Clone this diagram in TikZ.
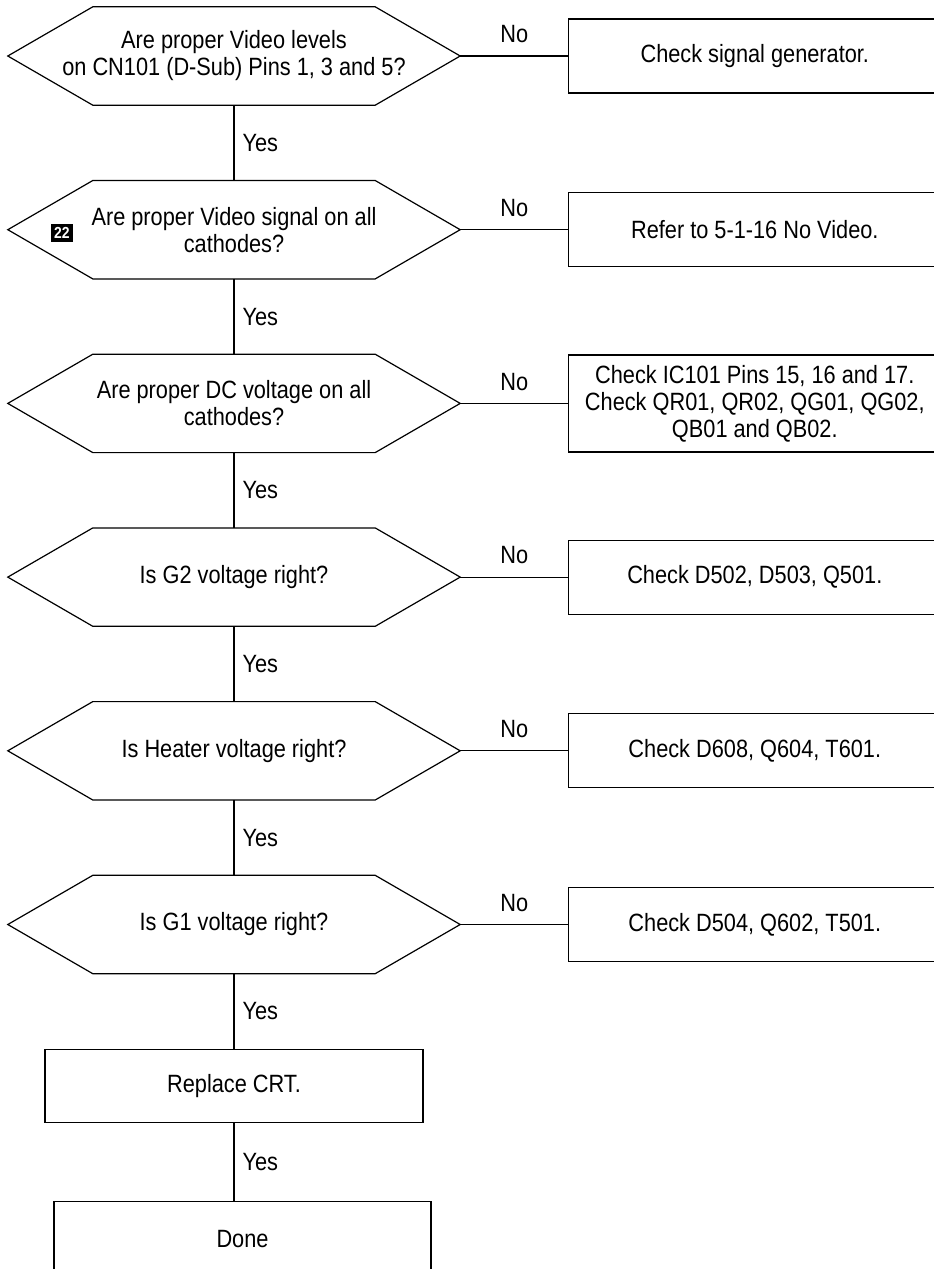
\documentclass[tikz,border=0pt]{standalone}
\usepackage{fontspec}
\setmainfont[FakeStretch=0.87]{Liberation Sans}
\usetikzlibrary{positioning}

\begin{document}
\begin{tikzpicture}[
  x=1pt,y=-1pt,
  node distance=75.3pt and 108pt,
  every node/.style={font=\fontsize{25}{27}\selectfont},
  hexnode/.style={minimum width=452pt,minimum height=98pt,inner sep=0pt,align=center},
  checkbox/.style={draw,line width=1.2pt,minimum width=372pt,minimum height=74pt,inner sep=2pt,align=center},
  endbox/.style={draw,line width=1.2pt,minimum width=378pt,minimum height=73pt,align=center},
  link/.style={line width=1.2pt}
]
\useasboundingbox (0,0) rectangle (934,1269);

% decisions
\node[hexnode] (d1) at (234,56) {Are proper Video levels\\on CN101 (D-Sub) Pins 1, 3 and 5?};
\node[hexnode,below=of d1] (d2) {Are proper Video signal on all\\cathodes?};
\node[hexnode,below=of d2] (d3) {Are proper DC voltage on all\\cathodes?};
\node[hexnode,below=of d3] (d4) {Is G2 voltage right?};
\node[hexnode,below=of d4] (d5) {Is Heater voltage right?};
\node[hexnode,below=of d5] (d6) {Is G1 voltage right?};
\foreach \d in {d1,d2,d3,d4,d5,d6}
  \draw[link] (\d.west) -- ([xshift=85pt]\d.north west) -- ([xshift=-85pt]\d.north east)
    -- (\d.east) -- ([xshift=-85pt]\d.south east) -- ([xshift=85pt]\d.south west) -- cycle;
\node[fill=black,text=white,inner xsep=3.5pt,inner ysep=0pt,minimum height=18pt,
  font=\bfseries\fontsize{16}{16}\selectfont] (badge) at ([xshift=54pt,yshift=-3pt]d2.west) {22};

% checks
\node[checkbox,right=of d1] (b1) {Check signal generator.};
\node[checkbox,right=of d2] (b2) {Refer to 5-1-16 No Video.};
\node[checkbox,right=of d3,minimum height=97pt] (b3) {Check IC101 Pins 15, 16 and 17.\\Check QR01, QR02, QG01, QG02,\\QB01 and QB02.};
\node[checkbox,right=of d4] (b4) {Check D502, D503, Q501.};
\node[checkbox,right=of d5] (b5) {Check D608, Q604, T601.};
\node[checkbox,right=of d6] (b6) {Check D504, Q602, T501.};

% end
\node[endbox,below=of d6] (crt) {Replace CRT.};
\node[endbox,below=78pt of crt,xshift=8.5pt,minimum width=377pt,minimum height=74pt] (done) {Done};

\foreach \i/\j in {1/2,2/3,3/4,4/5,5/6}
  \draw[link] (d\i) -- node[right,inner sep=8pt] {Yes} (d\j);
\foreach \i in {1,...,6}
  \draw[link] (d\i) -- node[above,yshift=9pt] {No} (b\i);
\draw[link] (d6) -- node[right,inner sep=8pt] {Yes} (crt);
\draw[link] (crt.south) -- node[right,inner sep=8pt] {Yes} (crt.south |- done.north);
\end{tikzpicture}
\end{document}
